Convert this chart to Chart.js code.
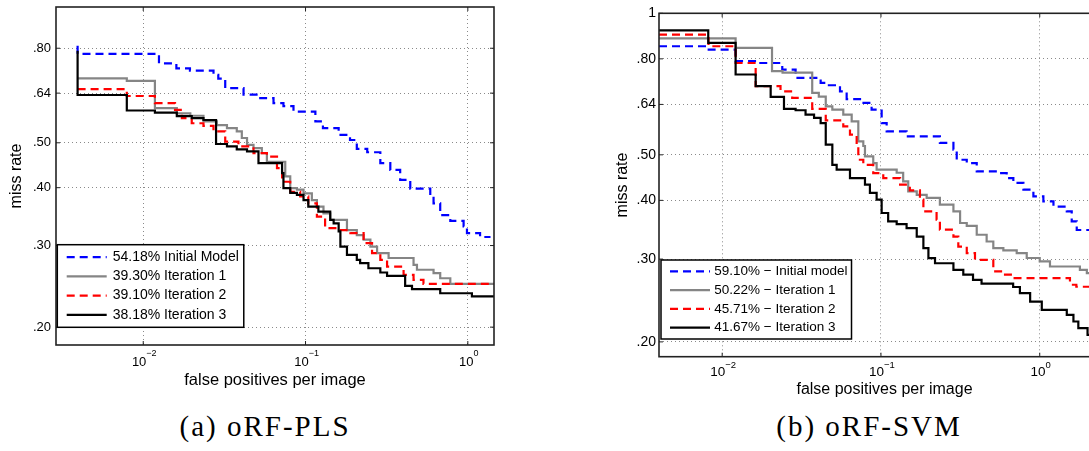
<!DOCTYPE html>
<html>
<head>
<meta charset="utf-8">
<script src="https://cdn.jsdelivr.net/npm/chart.js@4/dist/chart.umd.min.js"></script>
<style>
  html, body { margin: 0; padding: 0; background: #fff; }
  body { width: 1089px; height: 451px; position: relative; overflow: hidden; }
  canvas { position: absolute; top: 0; }
  #plsChart { left: 0; }
  #svmChart { left: 600px; }
  .caption {
    position: absolute; top: 412px; line-height: 1;
    font-family: "Liberation Serif", serif; font-size: 29px; letter-spacing: 2px;
    white-space: nowrap; transform: translateX(-50%); color: #000;
  }
</style>
</head>
<body>
<canvas id="plsChart" width="500" height="400"></canvas>
<canvas id="svmChart" width="516" height="410"></canvas>
<div class="caption" style="left:265px">(a) oRF-PLS</div>
<div class="caption" style="left:869px">(b) oRF-SVM</div>
<script>
// axis ticks
const fppiTicks = [0.01, 0.1, 1];
const plsMissTicks = [0.2, 0.3, 0.4, 0.5, 0.64, 0.8];
const svmMissTicks = [0.2, 0.3, 0.4, 0.5, 0.64, 0.8, 1];

// oRF-PLS curves (fppi where the curve steps, miss rate after the step)
const plsLabels = ['54.18% Initial Model', '39.30% Iteration 1', '39.10% Iteration 2', '38.18% Iteration 3'];
const plsInitFppi = [0.00394, 0.00394, 0.0125, 0.016, 0.0194, 0.0271, 0.029, 0.032, 0.0415, 0.0526, 0.0635, 0.0731, 0.0843, 0.115, 0.128, 0.16, 0.188, 0.207, 0.24, 0.289, 0.333, 0.383, 0.442, 0.587, 0.615, 0.676, 0.78, 0.942, 0.988, 1.19, 1.38];
const plsInitMiss = [0.81, 0.778, 0.742, 0.724, 0.716, 0.701, 0.688, 0.656, 0.635, 0.624, 0.609, 0.6, 0.584, 0.556, 0.538, 0.52, 0.507, 0.485, 0.477, 0.452, 0.437, 0.416, 0.398, 0.385, 0.37, 0.349, 0.339, 0.33, 0.319, 0.313, 0.313];
const plsIt1Fppi = [0.00394, 0.00792, 0.0118, 0.0161, 0.0195, 0.0235, 0.0284, 0.0328, 0.0377, 0.0405, 0.0436, 0.0478, 0.0538, 0.0578, 0.075, 0.0805, 0.0885, 0.0972, 0.1094, 0.1175, 0.129, 0.142, 0.18, 0.207, 0.228, 0.251, 0.276, 0.325, 0.463, 0.486, 0.615, 0.676, 0.78, 1.45];
const plsIt1Miss = [0.689, 0.68, 0.594, 0.579, 0.572, 0.556, 0.546, 0.538, 0.529, 0.512, 0.495, 0.487, 0.475, 0.455, 0.423, 0.399, 0.396, 0.389, 0.376, 0.364, 0.352, 0.341, 0.324, 0.316, 0.309, 0.2985, 0.289, 0.282, 0.2726, 0.266, 0.2616, 0.255, 0.248, 0.248];
const plsIt2Fppi = [0.00394, 0.00792, 0.0118, 0.0157, 0.0173, 0.0199, 0.0235, 0.0271, 0.032, 0.0386, 0.0478, 0.0578, 0.0667, 0.0717, 0.0805, 0.0927, 0.104, 0.1175, 0.132, 0.156, 0.189, 0.228, 0.257, 0.289, 0.318, 0.402, 0.463, 0.533, 1.45];
const plsIt2Miss = [0.653, 0.631, 0.609, 0.589, 0.565, 0.551, 0.544, 0.529, 0.503, 0.491, 0.475, 0.467, 0.441, 0.412, 0.392, 0.383, 0.37, 0.3465, 0.327, 0.324, 0.319, 0.3036, 0.289, 0.2795, 0.2703, 0.2594, 0.253, 0.248, 0.248];
const plsIt3Fppi = [0.00394, 0.00394, 0.00792, 0.0118, 0.0161, 0.0199, 0.0235, 0.0281, 0.0328, 0.0377, 0.0436, 0.0513, 0.0717, 0.0731, 0.0805, 0.0885, 0.0972, 0.104, 0.12, 0.142, 0.149, 0.16, 0.164, 0.18, 0.207, 0.217, 0.244, 0.289, 0.318, 0.411, 0.453, 0.676, 1.06, 1.45];
const plsIt3Miss = [0.79, 0.634, 0.587, 0.581, 0.571, 0.565, 0.56, 0.497, 0.491, 0.484, 0.479, 0.452, 0.43, 0.399, 0.39, 0.386, 0.376, 0.364, 0.355, 0.341, 0.335, 0.322, 0.2985, 0.2865, 0.2795, 0.275, 0.268, 0.2624, 0.258, 0.2455, 0.2415, 0.2367, 0.233, 0.233];

// oRF-SVM curves
const svmLabels = ['59.10% \u2212 Initial model', '50.22% \u2212 Iteration 1', '45.71% \u2212 Iteration 2', '41.67% \u2212 Iteration 3'];
const svmInitFppi = [0.004, 0.00804, 0.01215, 0.017, 0.0239, 0.029, 0.0417, 0.047, 0.0552, 0.0608, 0.0738, 0.0873, 0.101, 0.1086, 0.145, 0.235, 0.286, 0.3, 0.347, 0.401, 0.55, 0.619, 0.682, 0.789, 0.912, 1.054, 1.22, 1.48, 1.59, 1.71, 2.8];
const svmInitMiss = [0.851, 0.837, 0.791, 0.784, 0.759, 0.729, 0.711, 0.703, 0.682, 0.657, 0.645, 0.624, 0.584, 0.561, 0.547, 0.53, 0.513, 0.488, 0.48, 0.461, 0.457, 0.446, 0.436, 0.4215, 0.408, 0.398, 0.388, 0.379, 0.361, 0.346, 0.346];
const svmIt1Fppi = [0.004, 0.01215, 0.0206, 0.024, 0.0369, 0.0406, 0.0449, 0.0494, 0.0579, 0.0654, 0.072, 0.0774, 0.0793, 0.0894, 0.0939, 0.1256, 0.138, 0.1485, 0.168, 0.194, 0.235, 0.286, 0.315, 0.347, 0.401, 0.463, 0.51, 0.59, 0.716, 0.828, 1.0, 1.16, 1.79, 1.98, 2.8];
const svmIt1Miss = [0.884, 0.844, 0.753, 0.748, 0.677, 0.665, 0.634, 0.624, 0.609, 0.589, 0.534, 0.522, 0.496, 0.48, 0.465, 0.458, 0.439, 0.418, 0.411, 0.405, 0.3916, 0.379, 0.358, 0.353, 0.338, 0.327, 0.3166, 0.313, 0.309, 0.3016, 0.2966, 0.2893, 0.2847, 0.28, 0.275];
const svmIt2Fppi = [0.004, 0.0082, 0.01215, 0.01625, 0.0233, 0.0276, 0.0369, 0.0449, 0.0579, 0.0638, 0.0703, 0.072, 0.0774, 0.0894, 0.1034, 0.132, 0.152, 0.176, 0.185, 0.224, 0.235, 0.286, 0.307, 0.347, 0.391, 0.51, 0.59, 0.68, 1.55, 1.7, 2.8];
const svmIt2Miss = [0.901, 0.851, 0.784, 0.7, 0.682, 0.661, 0.626, 0.592, 0.575, 0.552, 0.521, 0.488, 0.476, 0.457, 0.446, 0.432, 0.42, 0.4015, 0.379, 0.364, 0.3465, 0.335, 0.319, 0.309, 0.299, 0.2824, 0.278, 0.2734, 0.2646, 0.262, 0.262];
const svmIt3Fppi = [0.004, 0.00817, 0.01215, 0.01625, 0.0202, 0.0245, 0.029, 0.0335, 0.0379, 0.0417, 0.0449, 0.0494, 0.0526, 0.0638, 0.0793, 0.0852, 0.0939, 0.101, 0.111, 0.1256, 0.145, 0.168, 0.185, 0.199, 0.219, 0.286, 0.33, 0.38, 0.43, 0.68, 0.75, 0.87, 1.03, 1.48, 1.63, 1.75, 2.0, 2.8];
const svmIt3Miss = [0.92, 0.865, 0.741, 0.7, 0.664, 0.626, 0.622, 0.609, 0.599, 0.584, 0.5255, 0.476, 0.465, 0.446, 0.432, 0.415, 0.4015, 0.376, 0.361, 0.356, 0.349, 0.335, 0.3166, 0.3015, 0.294, 0.2847, 0.278, 0.271, 0.266, 0.2617, 0.254, 0.2436, 0.2339, 0.2284, 0.221, 0.214, 0.207, 0.2];

const SANS = '"Liberation Sans", Arial, sans-serif';
const lineStyles = [
  { color: '#0000ff', dash: [8, 5] },
  { color: '#858585', dash: [] },
  { color: '#ff0000', dash: [8, 5] },
  { color: '#000000', dash: [] }
];

// box around the plot with small inward tick marks
const frame = {
  id: 'frame',
  afterDatasetsDraw(chart) {
    const { ctx, chartArea: a, scales } = chart;
    ctx.save();
    ctx.strokeStyle = '#222';
    ctx.lineWidth = 1;
    ctx.beginPath();
    scales.x.ticks.forEach(t => {
      const px = scales.x.getPixelForValue(t.value);
      ctx.moveTo(px, a.bottom); ctx.lineTo(px, a.bottom - 4);
      ctx.moveTo(px, a.top); ctx.lineTo(px, a.top + 4);
    });
    scales.y.ticks.forEach(t => {
      const py = scales.y.getPixelForValue(t.value);
      ctx.moveTo(a.left, py); ctx.lineTo(a.left + 4, py);
      ctx.moveTo(a.right, py); ctx.lineTo(a.right - 4, py);
    });
    ctx.stroke();
    ctx.lineWidth = 1.6;
    ctx.strokeRect(a.left, a.top, a.right - a.left, a.bottom - a.top);
    ctx.restore();
  }
};

// 10^k labels under the log x axis
const powerLabels = {
  id: 'powerLabels',
  afterDraw(chart, args, o) {
    const { ctx, chartArea: a, scales } = chart;
    ctx.save();
    ctx.fillStyle = '#000';
    ctx.textBaseline = 'middle';
    ctx.textAlign = 'left';
    scales.x.ticks.forEach(t => {
      const px = scales.x.getPixelForValue(t.value);
      const k = Math.round(Math.log10(t.value));
      const expText = k < 0 ? '\u2212' + (-k) : String(k);
      ctx.font = o.size + 'px ' + SANS;
      const w1 = ctx.measureText('10').width;
      ctx.font = (o.size - 4) + 'px ' + SANS;
      const w2 = ctx.measureText(expText).width;
      const x0 = px - (w1 + w2) / 2 + 1;
      ctx.fillText(expText, x0 + w1, a.bottom + o.expOffset);
      ctx.font = o.size + 'px ' + SANS;
      ctx.fillText('10', x0, a.bottom + o.baseOffset);
    });
    ctx.restore();
  }
};

// legend box in the lower left corner of the plot
const boxLegend = {
  id: 'boxLegend',
  afterDraw(chart, args, o) {
    const { ctx, chartArea: a } = chart;
    const sets = chart.data.datasets;
    ctx.save();
    ctx.font = o.fontSize + 'px ' + SANS;
    const textW = Math.max(...sets.map(d => ctx.measureText(d.label).width));
    const w = o.textX + textW + o.padRight;
    const h = o.rowTop * 2 + o.rowGap * (sets.length - 1);
    const x = a.left + o.dx;
    const y = a.bottom - o.dy - h;
    ctx.fillStyle = '#fff';
    ctx.fillRect(x, y, w, h);
    ctx.strokeStyle = '#000';
    ctx.lineWidth = 1.5;
    ctx.strokeRect(x, y, w, h);
    sets.forEach((d, i) => {
      const cy = y + o.rowTop + i * o.rowGap;
      ctx.strokeStyle = d.borderColor;
      ctx.lineWidth = d.borderWidth;
      ctx.setLineDash(d.borderDash);
      ctx.beginPath();
      ctx.moveTo(x + o.lineX, cy);
      ctx.lineTo(x + o.lineX + 40, cy);
      ctx.stroke();
      ctx.setLineDash([]);
      ctx.fillStyle = '#000';
      ctx.textBaseline = 'middle';
      ctx.fillText(d.label, x + o.textX, cy);
    });
    ctx.restore();
  }
};

function curve(label, xs, ys, i) {
  return {
    label: label,
    data: xs.map((x, j) => ({ x: x, y: ys[j] })),
    borderColor: lineStyles[i].color,
    borderDash: lineStyles[i].dash,
    borderWidth: 2.2,
    borderCapStyle: 'butt',
    pointRadius: 0,
    stepped: true,
    fill: false,
    order: 4 - i
  };
}

function missRateChart(id, datasets, o) {
  const grid = { color: '#8a8a8a', lineWidth: 1, drawTicks: false };
  const border = { display: false, dash: [1, 3] };
  return new Chart(document.getElementById(id), {
    type: 'line',
    data: { datasets: datasets },
    plugins: [frame, powerLabels, boxLegend],
    options: {
      responsive: false,
      animation: false,
      devicePixelRatio: 1,
      layout: { padding: { top: o.padTop, right: 6, bottom: o.padBottom, left: 0 } },
      scales: {
        x: {
          type: 'logarithmic',
          min: o.xMin,
          max: o.xMax,
          afterBuildTicks: s => { s.ticks = fppiTicks.map(v => ({ value: v })); },
          afterFit: s => { s.height = o.xAxisHeight; s.paddingLeft = 0; s.paddingRight = 0; },
          grid: grid,
          border: border,
          ticks: { display: false },
          title: {
            display: true, text: 'false positives per image', color: '#000',
            font: { family: SANS, size: o.xTitleSize }, padding: 0
          }
        },
        y: {
          type: 'logarithmic',
          min: o.yMin,
          max: o.yMax,
          afterBuildTicks: s => { s.ticks = o.yTicks.map(v => ({ value: v })); },
          afterFit: s => { s.width = o.yAxisWidth; s.paddingTop = 0; s.paddingBottom = 0; },
          grid: grid,
          border: border,
          ticks: {
            autoSkip: false, color: '#000', padding: o.yTickPad,
            font: { family: SANS, size: o.yTickSize },
            callback: v => v >= 1 ? '1' : v.toFixed(2).slice(1)
          },
          title: {
            display: true, text: 'miss rate', color: '#000',
            font: { family: SANS, size: 16 }, padding: { top: o.yTitlePad, bottom: 0 }
          }
        }
      },
      plugins: {
        legend: { display: false },
        tooltip: { enabled: false },
        powerLabels: { size: o.xTickSize, baseOffset: o.baseOffset, expOffset: o.expOffset },
        boxLegend: o.legend
      }
    }
  });
}

missRateChart('plsChart', [
  curve(plsLabels[0], plsInitFppi, plsInitMiss, 0),
  curve(plsLabels[1], plsIt1Fppi, plsIt1Miss, 1),
  curve(plsLabels[2], plsIt2Fppi, plsIt2Miss, 2),
  curve(plsLabels[3], plsIt3Fppi, plsIt3Miss, 3)
], {
  xMin: 0.0029, xMax: 1.45, yMin: 0.183, yMax: 0.982, yTicks: plsMissTicks,
  padTop: 7, padBottom: 10, xAxisHeight: 45, yAxisWidth: 56,
  xTitleSize: 16.5, yTickSize: 13, yTickPad: 5, yTitlePad: 7.4,
  xTickSize: 13, baseOffset: 17, expOffset: 9,
  legend: { fontSize: 14, dx: 1.3, dy: 17.7, rowTop: 12.5, rowGap: 19.2, lineX: 9.4, textX: 55.4, padRight: 5 }
});

missRateChart('svmChart', [
  curve(svmLabels[0], svmInitFppi, svmInitMiss, 0),
  curve(svmLabels[1], svmIt1Fppi, svmIt1Miss, 1),
  curve(svmLabels[2], svmIt2Fppi, svmIt2Miss, 2),
  curve(svmLabels[3], svmIt3Fppi, svmIt3Miss, 3)
], {
  xMin: 0.004, xMax: 2.77, yMin: 0.186, yMax: 1, yTicks: svmMissTicks,
  padTop: 13.3, padBottom: 10.4, xAxisHeight: 42.9, yAxisWidth: 59,
  xTitleSize: 16, yTickSize: 14, yTickPad: 3, yTitlePad: 13.4,
  xTickSize: 13.5, baseOffset: 16, expOffset: 9,
  legend: { fontSize: 13.5, dx: 2, dy: 17.7, rowTop: 11.3, rowGap: 18.8, lineX: 9, textX: 53.3, padRight: 4 }
});
</script>
</body>
</html>
